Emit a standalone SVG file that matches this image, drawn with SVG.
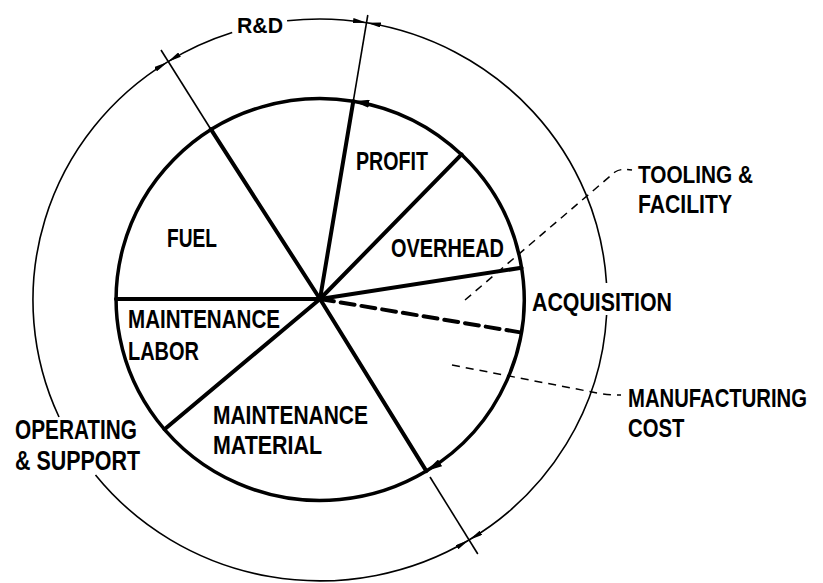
<svg xmlns="http://www.w3.org/2000/svg" width="823" height="583" viewBox="0 0 823 583">
  <style>
    .t { font-family: "Liberation Sans Narrow", "Liberation Sans", Arial, sans-serif; font-weight: bold; fill: #000; }
    .thick { stroke: #000; stroke-width: 4; fill: none; stroke-linecap: round; }
    .ring { stroke: #000; stroke-width: 3.5; fill: none; }
    .thin { stroke: #000; stroke-width: 1.6; fill: none; }
    .lead { stroke: #000; stroke-width: 1.5; fill: none; stroke-dasharray: 8 6; }
  </style>
  <defs>
    <marker id="arrO" viewBox="0 0 14 5" refX="14" refY="2.5" markerWidth="14" markerHeight="5" markerUnits="userSpaceOnUse" orient="auto-start-reverse">
      <path d="M0,0 L14,2.5 L0,5 z" fill="#000"/>
    </marker>
    <marker id="arrI" viewBox="0 0 16 8" refX="16" refY="4" markerWidth="16" markerHeight="8" markerUnits="userSpaceOnUse" orient="auto-start-reverse">
      <path d="M0,0 L16,4 L0,8 z" fill="#000"/>
    </marker>
  </defs>
  <rect width="823" height="583" fill="#fff"/>

  <!-- outer dimension ring, split into R&D / acquisition / operating arcs -->
  <g id="outer-ring">
    <path class="thin" d="M167.6,61.9 A287,281 0 0 1 232.2,32.5" marker-start="url(#arrO)"/>
    <path class="thin" d="M287.1,20.8 A287,281 0 0 1 366.9,22.8" marker-end="url(#arrO)"/>
    <path class="thin" d="M366.9,22.8 A287,281 0 0 1 606.5,283" marker-start="url(#arrO)"/>
    <path class="thin" d="M606.6,315 A287,281 0 0 1 469,540" marker-end="url(#arrO)"/>
    <path class="thin" d="M469,540 A287,281 0 0 1 95.5,475" marker-start="url(#arrO)"/>
    <path class="thin" d="M59,417 A287,281 0 0 1 167.6,61.9" marker-end="url(#arrO)"/>
  </g>

  <!-- inner pie outline -->
  <g id="inner-ring">
    <path class="ring" d="M353.3,101.2 A204,201 0 0 1 426.4,471.1" marker-start="url(#arrI)" marker-end="url(#arrI)"/>
    <path class="ring" d="M426.4,471.1 A204,201 0 1 1 353.3,101.2"/>
  </g>

  <!-- pie slice dividers -->
  <g id="dividers">
    <line class="thick" x1="320" y1="299" x2="210.8" y2="129.2"/>
    <line class="thick" x1="320" y1="299" x2="353.3" y2="101.2"/>
    <line class="thick" x1="320" y1="299" x2="461.6" y2="154.4"/>
    <line class="thick" x1="320" y1="299" x2="521.5" y2="267.8"/>
    <line class="thick" x1="320" y1="299" x2="521.1" y2="332.5" stroke-dasharray="14 7" stroke-linecap="butt"/>
    <line class="thick" x1="320" y1="299" x2="426.4" y2="471.1"/>
    <line class="thick" x1="320" y1="299" x2="164.6" y2="429.2"/>
    <line class="thick" x1="320" y1="299" x2="116" y2="299"/>
    <!-- extension lines to the outer ring -->
    <line class="thin" x1="210.8" y1="129.2" x2="161" y2="50"/>
    <line class="thin" x1="353.3" y1="101.2" x2="367.8" y2="15"/>
    <line class="thin" x1="430" y1="477" x2="477.8" y2="554"/>
  </g>

  <!-- dashed leader lines -->
  <g id="connectors">
    <path class="lead" d="M465,300 L615,172 Q621,168 632,170"/>
    <path class="lead" d="M452,365 L592,392 Q604,395 621,395"/>
  </g>

  <g id="rd"><text class="t" x="237" y="33" font-size="22.5" textLength="46" lengthAdjust="spacingAndGlyphs">R&amp;D</text></g>
  <g id="profit"><text class="t" x="356" y="170" font-size="25" textLength="72" lengthAdjust="spacingAndGlyphs">PROFIT</text></g>
  <g id="overhead"><text class="t" x="391" y="257" font-size="26.5" textLength="113" lengthAdjust="spacingAndGlyphs">OVERHEAD</text></g>
  <g id="acquisition"><text class="t" x="532" y="310.5" font-size="26.5" textLength="140" lengthAdjust="spacingAndGlyphs">ACQUISITION</text></g>
  <g id="fuel"><text class="t" x="167" y="246.5" font-size="26.5" textLength="50" lengthAdjust="spacingAndGlyphs">FUEL</text></g>
  <g id="maint-labor">
    <text class="t" x="128" y="328" font-size="25.5" textLength="152" lengthAdjust="spacingAndGlyphs">MAINTENANCE</text>
    <text class="t" x="128" y="359.5" font-size="25.5" textLength="71" lengthAdjust="spacingAndGlyphs">LABOR</text>
  </g>
  <g id="maint-material">
    <text class="t" x="213" y="423.5" font-size="26.5" textLength="155" lengthAdjust="spacingAndGlyphs">MAINTENANCE</text>
    <text class="t" x="213" y="453.5" font-size="26.5" textLength="109" lengthAdjust="spacingAndGlyphs">MATERIAL</text>
  </g>
  <g id="operating-support">
    <text class="t" x="15" y="439" font-size="27" textLength="122" lengthAdjust="spacingAndGlyphs">OPERATING</text>
    <text class="t" x="15" y="470" font-size="27" textLength="125" lengthAdjust="spacingAndGlyphs">&amp; SUPPORT</text>
  </g>
  <g id="tooling-facility">
    <text class="t" x="638" y="182.5" font-size="24.5" textLength="115" lengthAdjust="spacingAndGlyphs">TOOLING &amp;</text>
    <text class="t" x="638" y="213" font-size="25" textLength="94" lengthAdjust="spacingAndGlyphs">FACILITY</text>
  </g>
  <g id="manufacturing-cost" transform="translate(628,0) scale(0.78,1)">
    <text class="t" x="0" y="407" font-size="26">MANUFACTURING</text>
    <text class="t" x="0" y="437" font-size="26">COST</text>
  </g>
</svg>
